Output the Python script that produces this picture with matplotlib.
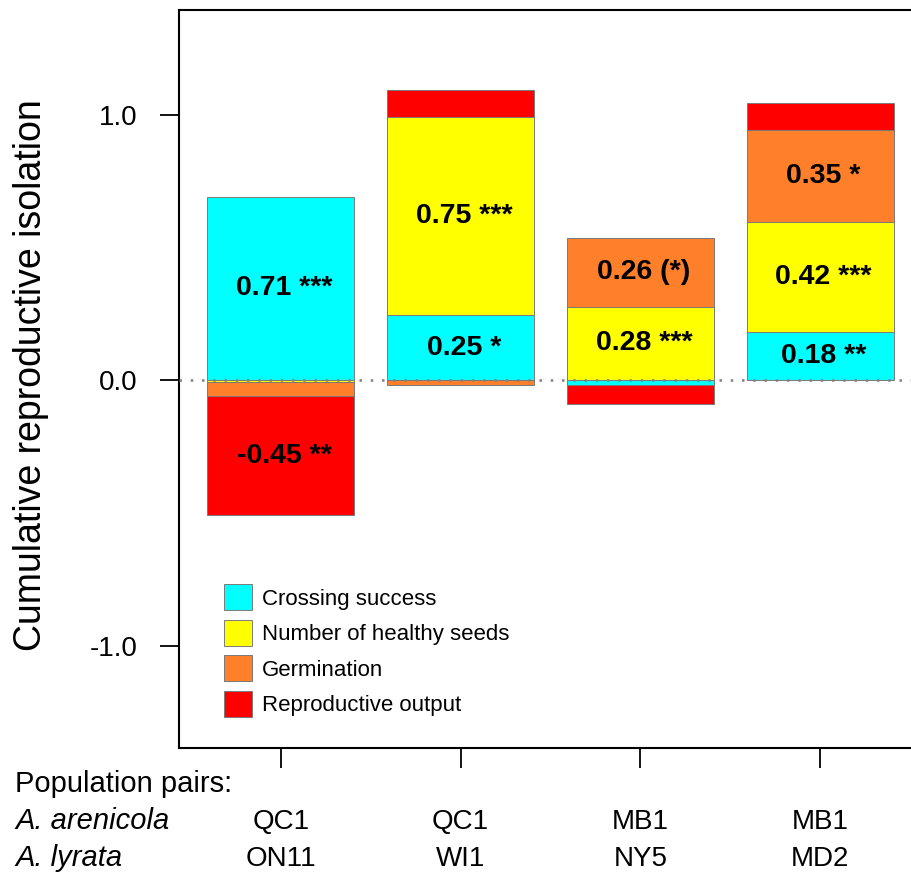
import matplotlib
matplotlib.use("Agg")
import matplotlib.pyplot as plt
import numpy as np

plt.rcParams['font.family'] = ['Liberation Sans', 'DejaVu Sans']

# ---- data ----
pairs_arenicola = ["QC1", "QC1", "MB1", "MB1"]
pairs_lyrata = ["ON11", "WI1", "NY5", "MD2"]
components = ["Crossing success", "Number of healthy seeds", "Germination", "Reproductive output"]
colors = ["#00FFFF", "#FFFF00", "#FF7F2A", "#FF0000"]

crossing = [0.690, 0.245, -0.019, 0.181]
seeds = [-0.007, 0.745, 0.276, 0.414]
germination = [-0.052, -0.019, 0.261, 0.347]
repro_output = [-0.451, 0.102, -0.070, 0.102]

lab_crossing = ["0.71 ***", "0.25 *", "", "0.18 **"]
lab_seeds = ["", "0.75 ***", "0.28 ***", "0.42 ***"]
lab_germination = ["", "", "0.26 (*)", "0.35 *"]
lab_repro = ["-0.45 **", "", "", ""]

values = [crossing, seeds, germination, repro_output]
labels = [lab_crossing, lab_seeds, lab_germination, lab_repro]

# ---- figure ----
W, H = 912, 876
fig = plt.figure(figsize=(W / 100, H / 100), dpi=100)
ax = fig.add_axes([179 / W, 1 - 748 / H, (922 - 179) / W, (748 - 10) / H])

x = np.arange(1, len(pairs_arenicola) + 1)
pos_base = np.zeros(len(x))
neg_base = np.zeros(len(x))
for comp, vals, labs, col in zip(components, values, labels, colors):
    vals = np.array(vals)
    bottoms = np.where(vals >= 0, pos_base, neg_base)
    ax.bar(x, vals, bottom=bottoms, width=0.817, color=col, edgecolor="#7a7a7a",
           linewidth=0.7, label=comp, zorder=2)
    for xi, b, v, t in zip(x, bottoms, vals, labs):
        if t:
            ax.text(xi + 0.02, b + v / 2, t, ha="center", va="center", fontsize=20.5,
                    fontweight="bold", zorder=4)
    pos_base = pos_base + np.where(vals >= 0, vals, 0)
    neg_base = neg_base + np.where(vals < 0, vals, 0)

ax.axhline(0, color="#808080", linestyle=(0, (1, 3.5)), linewidth=1.8, zorder=3)

ax.set_xlim(0.4333, 4.567)
ax.set_ylim(-1.386, 1.394)
ax.set_yticks([-1.0, 0.0, 1.0])
ax.set_yticklabels(["-1.0", "0.0", "1.0"], fontsize=20)
ax.set_xticks(x)
ax.set_xticklabels([])
ax.tick_params(axis="both", direction="out", length=14, width=1.3, pad=16)
ax.tick_params(axis="x", length=14.5)
for s in ["left", "top", "bottom"]:
    ax.spines[s].set_linewidth(1.5)
ax.spines["right"].set_visible(False)

ax.set_ylabel("Cumulative reproductive isolation", fontsize=27)
ax.yaxis.set_label_coords(-(179 - 49) / 743, 1 - (375 - 10) / 738)

# bottom labels
trans = ax.get_xaxis_transform()
fig.text(15 / W, 1 - 784 / H, "Population pairs:", fontsize=21, ha="left", va="center")
fig.text(15 / W, 1 - 821 / H, "A. arenicola", fontsize=21, style="italic", ha="left", va="center")
fig.text(15 / W, 1 - 858 / H, "A. lyrata", fontsize=21, style="italic", ha="left", va="center")
for xi, a, l in zip(x, pairs_arenicola, pairs_lyrata):
    ax.text(xi, -(822 - 748) / 738, a, transform=trans, fontsize=20, ha="center", va="center", clip_on=False)
    ax.text(xi, -(859 - 748) / 738, l, transform=trans, fontsize=20, ha="center", va="center", clip_on=False)

leg = ax.legend(loc="upper left", bbox_to_anchor=((224 - 179) / 743, 1 - (584 - 10) / 738),
                frameon=False, fontsize=16, handlelength=1.27, handleheight=1.45,
                handletextpad=0.45, labelspacing=0.41, borderpad=0, borderaxespad=0)

fig.savefig("out.png", dpi=100)
